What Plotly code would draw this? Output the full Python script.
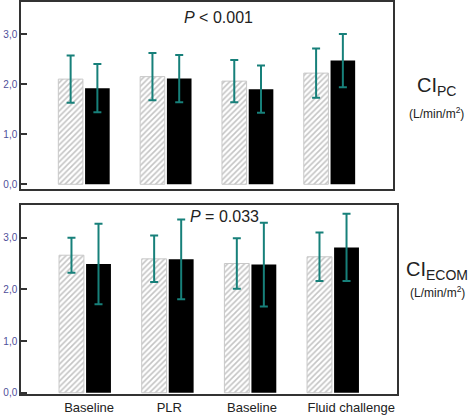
import plotly.graph_objects as go

categories = ["Baseline", "PLR", "Baseline", "Fluid challenge"]
label_pos = [0.05, 1.02, 2.02, 3.22]

# Top panel: CI_PC
pc_hatched = [2.10, 2.15, 2.06, 2.22]
pc_hatched_sd = [0.47, 0.47, 0.42, 0.49]
pc_black = [1.92, 2.11, 1.90, 2.47]
pc_black_sd = [0.48, 0.47, 0.47, 0.53]

# Bottom panel: CI_ECOM
ecom_hatched = [2.66, 2.59, 2.50, 2.63]
ecom_hatched_sd = [0.34, 0.45, 0.49, 0.47]
ecom_black = [2.49, 2.58, 2.48, 2.81]
ecom_black_sd = [0.78, 0.77, 0.81, 0.65]

ytickvals = [0, 1, 2, 3]
yticktext = ["0,0", "1,0", "2,0", "3,0"]

W, H = 472, 420
teal = "#17807a"
x_idx = list(range(len(categories)))

def hatched(y, sd, xa, ya):
    return go.Bar(
        x=x_idx, y=y, xaxis=xa, yaxis=ya,
        marker=dict(color="white",
                    line=dict(color="#c8c8c8", width=1),
                    pattern=dict(shape="/", fgcolor="#8a8a8a", bgcolor="white",
                                 size=4, solidity=0.4)),
        error_y=dict(type="data", array=sd, visible=True, color=teal,
                     thickness=2, width=4),
        showlegend=False,
    )

def black(y, sd, xa, ya):
    return go.Bar(
        x=x_idx, y=y, xaxis=xa, yaxis=ya,
        marker=dict(color="black", line=dict(color="black", width=0)),
        error_y=dict(type="data", array=sd, visible=True, color=teal,
                     thickness=2, width=4),
        showlegend=False,
    )

fig = go.Figure()
fig.add_trace(hatched(pc_hatched, pc_hatched_sd, "x", "y"))
fig.add_trace(black(pc_black, pc_black_sd, "x", "y"))
fig.add_trace(hatched(ecom_hatched, ecom_hatched_sd, "x2", "y2"))
fig.add_trace(black(ecom_black, ecom_black_sd, "x2", "y2"))

yaxis_common = dict(
    showline=True, linecolor="#333333", linewidth=1.5, mirror=True,
    showgrid=False, zeroline=False,
    tickmode="array", tickvals=ytickvals, ticktext=yticktext,
    ticks="inside", ticklen=6, tickcolor="#333333", tickwidth=1.5,
    tickfont=dict(family="Liberation Sans", size=10, color="#4f4f9a"),
)

fig.update_layout(
    width=W, height=H,
    margin=dict(l=0, r=0, t=0, b=0),
    paper_bgcolor="white", plot_bgcolor="white",
    barmode="group", bargap=0.346, bargroupgap=0.08,
    xaxis=dict(domain=[21 / W, 393.3 / W], range=[-0.770, 3.780],
               showline=True, linecolor="#333333", linewidth=1.5, mirror=True,
               showgrid=False, zeroline=False, showticklabels=False, ticks="",
               anchor="y"),
    yaxis=dict(domain=[1 - 190 / H, 1 - 1 / H], range=[-0.089, 3.64],
               anchor="x", **yaxis_common),
    xaxis2=dict(domain=[21 / W, 397 / W], range=[-0.774, 3.774],
                showline=True, linecolor="#333333", linewidth=1.5, mirror=True,
                showgrid=False, zeroline=False, ticks="",
                tickmode="array", tickvals=label_pos, ticktext=categories,
                tickfont=dict(family="Liberation Sans", size=13, color="#222222"),
                anchor="y2"),
    yaxis2=dict(domain=[1 - 398 / H, 1 - 206 / H], range=[-0.029, 3.64],
                anchor="x2", **yaxis_common),
    font=dict(family="Liberation Sans", color="#222222"),
)

def ann(text, px, py, size):
    fig.add_annotation(text=text, x=px / W, y=1 - py / H, xref="paper", yref="paper",
                       showarrow=False, xanchor="center", yanchor="middle",
                       font=dict(family="Liberation Sans", size=size, color="#222222"))

ann("<i>P</i> < 0.001", 218, 17, 16)
ann("<i>P</i> = 0.033", 224.5, 218, 16)
ann("CI<sub>PC</sub>", 436, 87, 20)
ann("(L/min/m<sup>2</sup>)", 436, 113, 12)
ann("CI<sub>ECOM</sub>", 437, 273, 20)
ann("(L/min/m<sup>2</sup>)", 437, 295, 12)

fig.write_html(
    "out.html",
    config={"displayModeBar": False},
    post_script="document.body.style.margin='0';document.body.style.overflow='hidden';",
)
